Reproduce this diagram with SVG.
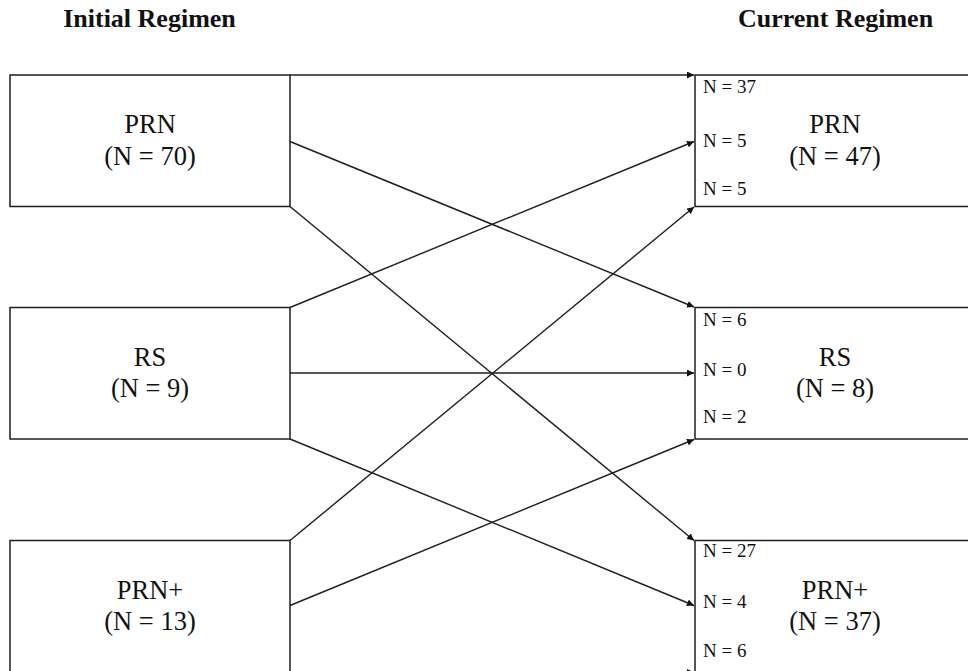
<svg xmlns="http://www.w3.org/2000/svg" width="968" height="671" viewBox="0 0 968 671">
  <style>
    .box { fill: #ffffff; stroke: #1e1e1e; stroke-width: 1.5; }
    text { font-family: "Times New Roman", "Liberation Serif", Tinos, "DejaVu Serif", serif; fill: #111; }
    .title { font-size: 26px; font-weight: bold; text-anchor: middle; }
    .label { font-size: 26.5px; font-weight: normal; text-anchor: middle; }
    .count { font-size: 19px; font-weight: normal; }
    .flow { stroke: #1e1e1e; stroke-width: 1.4; fill: none; marker-end: url(#arrow); }
  </style>
  <defs>
    <marker id="arrow" markerUnits="userSpaceOnUse" markerWidth="8" markerHeight="7" refX="7" refY="3.5" orient="auto">
      <path d="M0,0 L7,3.5 L0,7 z" fill="#111"/>
    </marker>
  </defs>

  <rect width="968" height="671" fill="#ffffff"/>

  <!-- column headings -->
  <text class="title" x="149.5" y="27">Initial Regimen</text>
  <text class="title" x="835.5" y="27">Current Regimen</text>

  <!-- flows between regimens -->
  <g id="connectors">
    <line class="flow" x1="290" y1="75" x2="694" y2="75"/>
    <line class="flow" x1="290" y1="141.5" x2="694" y2="307"/>
    <line class="flow" x1="290" y1="206.5" x2="694" y2="540.5"/>
    <line class="flow" x1="290" y1="307.5" x2="694" y2="141.5"/>
    <line class="flow" x1="290" y1="373" x2="694" y2="373"/>
    <line class="flow" x1="290" y1="439" x2="694" y2="605.5"/>
    <line class="flow" x1="290" y1="540.5" x2="694" y2="207"/>
    <line class="flow" x1="290" y1="605.5" x2="694" y2="439.5"/>
    <line class="flow" x1="290" y1="672.5" x2="694" y2="672.5"/>
  </g>

  <!-- initial regimen boxes -->
  <g id="initial-prn">
    <rect class="box" x="10" y="75" width="280" height="131.5"/>
    <text class="label" x="150" y="133">PRN</text>
    <text class="label" x="150" y="165">(N = 70)</text>
  </g>
  <g id="initial-rs">
    <rect class="box" x="10" y="307.5" width="280" height="131.5"/>
    <text class="label" x="150" y="366">RS</text>
    <text class="label" x="150" y="397">(N = 9)</text>
  </g>
  <g id="initial-prnplus">
    <rect class="box" x="10" y="540.5" width="280" height="131.5"/>
    <text class="label" x="150" y="599">PRN+</text>
    <text class="label" x="150" y="630">(N = 13)</text>
  </g>

  <!-- current regimen boxes -->
  <g id="current-prn">
    <rect class="box" x="695" y="75" width="280" height="131.5"/>
    <text class="label" x="835" y="133">PRN</text>
    <text class="label" x="835" y="165">(N = 47)</text>
    <text class="count" x="703" y="93">N = 37</text>
    <text class="count" x="703" y="147">N = 5</text>
    <text class="count" x="703" y="195">N = 5</text>
  </g>
  <g id="current-rs">
    <rect class="box" x="695" y="307.5" width="280" height="131.5"/>
    <text class="label" x="835" y="366">RS</text>
    <text class="label" x="835" y="397">(N = 8)</text>
    <text class="count" x="703" y="326">N = 6</text>
    <text class="count" x="703" y="376">N = 0</text>
    <text class="count" x="703" y="423">N = 2</text>
  </g>
  <g id="current-prnplus">
    <rect class="box" x="695" y="540.5" width="280" height="131.5"/>
    <text class="label" x="835" y="599">PRN+</text>
    <text class="label" x="835" y="630">(N = 37)</text>
    <text class="count" x="703" y="557">N = 27</text>
    <text class="count" x="703" y="608">N = 4</text>
    <text class="count" x="703" y="657">N = 6</text>
  </g>
</svg>
